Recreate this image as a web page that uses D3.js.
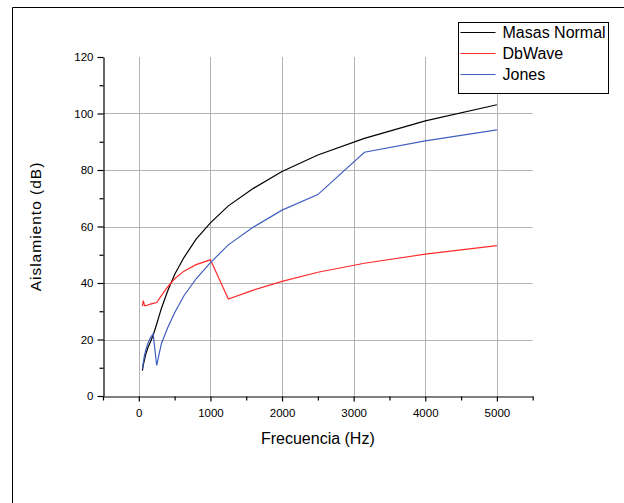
<!DOCTYPE html>
<html>
<head>
<meta charset="utf-8">
<script src="https://cdn.jsdelivr.net/npm/d3@7"></script>
<style>
  html, body { margin: 0; padding: 0; background: #fff; }
  svg { display: block; font-family: "Liberation Sans", Arial, sans-serif; }
</style>
</head>
<body>
<svg id="chart" width="624" height="503"></svg>
<script>
// ---- data ----
const freqs = [50, 63, 80, 100, 125, 160, 200, 250, 315, 400, 500, 630, 800, 1000, 1250, 1600, 2000, 2500, 3150, 4000, 5000];
const masasNormal = [9, 11, 13, 15, 17, 19, 21.5, 25.5, 31, 37, 43, 49, 55.5, 61.3, 67.3, 73.5, 79.5, 85.3, 91.2, 97.4, 103.1];
const dbWave = [31.8, 33.8, 32, 32, 32.2, 32.5, 32.8, 33.1, 35.5, 38.5, 41.5, 44.2, 46.5, 48.2, 34.3, 37.5, 40.6, 43.8, 47, 50.2, 53.2];
const jones = [9.5, 12, 14.5, 16.5, 18.5, 20.5, 22, 10.8, 18.5, 24, 29.5, 35.5, 41.5, 47.2, 53.5, 59.8, 65.8, 71.3, 86.3, 90.3, 94.2];
const seriesNames = ["Masas Normal", "DbWave", "Jones"];
const seriesColors = ["#000000", "#ff2a2a", "#3f5fc0"];
const xTicks = [0, 1000, 2000, 3000, 4000, 5000];
const xMinorTicks = [-500, 500, 1500, 2500, 3500, 4500, 5500];
const yTicks = [0, 20, 40, 60, 80, 100, 120];
const yMinorTicks = [10, 30, 50, 70, 90, 110];
const xTitle = "Frecuencia (Hz)";
const yTitle = "Aislamiento (dB)";

const svg = d3.select("#chart");
const pL = 103, pR = 532.7, pT = 57, pB = 396;
const x = d3.scaleLinear().domain([-500, 5500]).range([pL, pR]);
const y = d3.scaleLinear().domain([0, 120]).range([pB, pT]);

// outer frame (left and top edges visible)
svg.append("line").attr("x1", 12.5).attr("x2", 12.5).attr("y1", 7.5).attr("y2", 503).attr("stroke", "#000");
svg.append("line").attr("x1", 12.5).attr("x2", 624).attr("y1", 7.5).attr("y2", 7.5).attr("stroke", "#000");

// grid
const grid = svg.append("g");
grid.selectAll("line.v").data(xTicks).join("line")
  .attr("x1", d => Math.round(x(d)) + 0.5).attr("x2", d => Math.round(x(d)) + 0.5)
  .attr("y1", pT).attr("y2", pB)
  .attr("stroke", "#b4b4b4").attr("stroke-width", 1);
grid.selectAll("line.h").data(yTicks.filter(d => d > 0 && d < 120)).join("line")
  .attr("y1", d => Math.round(y(d)) + 0.5).attr("y2", d => Math.round(y(d)) + 0.5)
  .attr("x1", pL).attr("x2", pR)
  .attr("stroke", "#b4b4b4").attr("stroke-width", 1);

// axes
svg.append("g").attr("transform", `translate(0,${pB + 0.5})`)
  .call(d3.axisBottom(x).tickValues(xTicks).tickSize(5).tickSizeOuter(0).tickPadding(7).tickFormat(d3.format("d")));
svg.append("g").attr("transform", `translate(0,${pB + 0.5})`)
  .call(d3.axisBottom(x).tickValues(xMinorTicks).tickSize(4).tickSizeOuter(0).tickFormat(""))
  .call(g => g.select(".domain").remove());
svg.append("g").attr("transform", `translate(${pL + 0.5},0)`)
  .call(d3.axisLeft(y).tickValues(yTicks).tickSize(6).tickSizeOuter(0).tickPadding(4));
svg.append("g").attr("transform", `translate(${pL + 0.5},0)`)
  .call(d3.axisLeft(y).tickValues(yMinorTicks).tickSize(4).tickSizeOuter(0).tickFormat(""))
  .call(g => g.select(".domain").remove());
svg.selectAll(".tick text").attr("font-size", 11.5).attr("fill", "#000")
  .attr("font-family", "'Liberation Sans', Arial, sans-serif");
svg.selectAll(".domain, .tick line").attr("stroke", "#000").attr("stroke-width", 1.2);

// axis titles
svg.append("text").attr("x", (x(0) + x(5000)) / 2).attr("y", 444)
  .attr("text-anchor", "middle").attr("font-size", 16).text(xTitle);
svg.append("text").attr("transform", `translate(41,${(pT + pB) / 2}) rotate(-90)`)
  .attr("text-anchor", "middle").attr("font-size", 15.5).attr("letter-spacing", 1)
  .text(yTitle);

// lines
const allSeries = [masasNormal, dbWave, jones];
const line = d3.line().x((d, i) => x(freqs[i])).y(d => y(d));
svg.append("g").selectAll("path").data(allSeries).join("path")
  .attr("d", d => line(d)).attr("fill", "none")
  .attr("stroke", (d, i) => seriesColors[i]).attr("stroke-width", 1.2);

// legend
const lg = svg.append("g");
const lx = 458.5, ly = 22.5, lw = 150, rowH = 21;
lg.append("rect").attr("x", lx).attr("y", ly).attr("width", lw).attr("height", rowH * 3 + 8)
  .attr("fill", "#fff").attr("stroke", "#000").attr("stroke-width", 1);
seriesNames.forEach((name, i) => {
  const cy = ly + 10 + i * rowH;
  lg.append("line").attr("x1", lx + 2).attr("x2", lx + 37).attr("y1", cy).attr("y2", cy)
    .attr("stroke", seriesColors[i]).attr("stroke-width", 1.2);
  lg.append("text").attr("x", lx + 44).attr("y", cy).attr("dy", "0.36em")
    .attr("font-size", 16).text(name);
});
</script>
</body>
</html>
